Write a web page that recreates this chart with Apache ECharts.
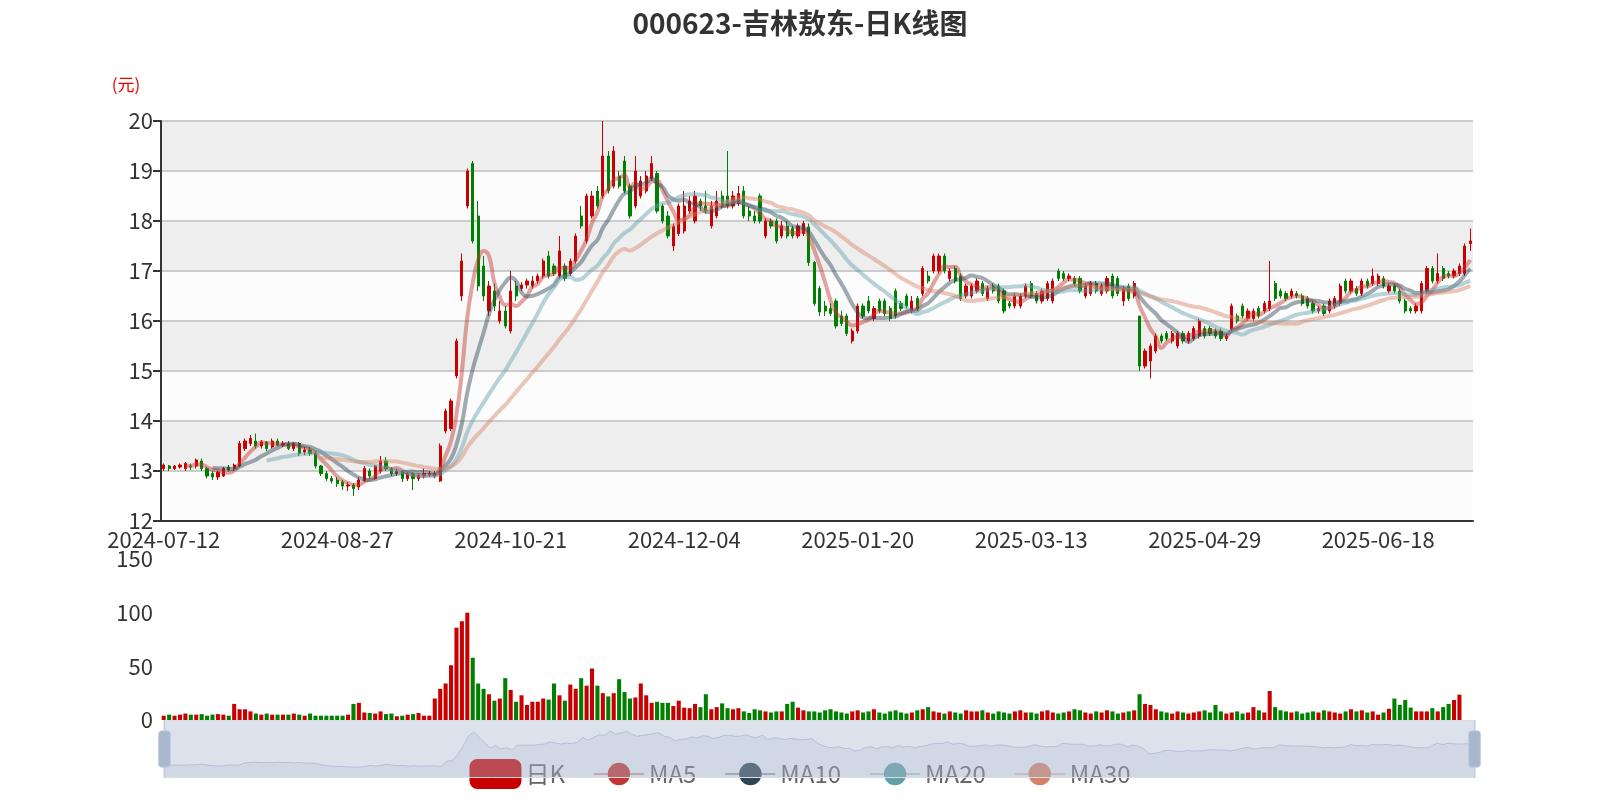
<!doctype html>
<html>
<head>
    <meta charset="UTF-8">
    <title>000623-吉林敖东-日K线图</title>
    <script src="https://cdn.jsdelivr.net/npm/echarts@6/dist/echarts.min.js"></script>
    <style>
        html, body { margin: 0; padding: 0; background: #fff; }
        #main { width: 1600px; height: 800px; }
    </style>
</head>
<body>
<div id="main"></div>
<script type="text/javascript">
    // 日K数据: [开盘, 收盘, 最低, 最高]
    var kData = [
        [13.05,13.12,13.0,13.15],[13.1,13.05,13.0,13.12],[13.05,13.1,13.02,13.12],[13.08,13.12,13.05,13.15],
        [13.05,13.15,13.0,13.18],[13.1,13.08,13.02,13.15],[13.1,13.22,13.05,13.25],[13.2,13.05,13.0,13.25],
        [13.05,12.9,12.85,13.08],[12.95,12.88,12.82,13.0],[12.88,12.98,12.82,13.0],[12.9,13.05,12.88,13.08],
        [13.08,13.02,12.98,13.12],[13.05,13.12,13.0,13.15],[13.1,13.55,13.08,13.6],[13.45,13.6,13.4,13.65],
        [13.55,13.65,13.5,13.72],[13.6,13.5,13.45,13.75],[13.5,13.58,13.45,13.62],[13.58,13.45,13.4,13.6],
        [13.48,13.6,13.45,13.65],[13.6,13.52,13.5,13.65],[13.52,13.55,13.48,13.6],[13.55,13.45,13.42,13.6],
        [13.45,13.55,13.4,13.58],[13.55,13.35,13.3,13.58],[13.38,13.42,13.32,13.48],[13.42,13.35,13.3,13.48],
        [13.35,13.1,13.05,13.4],[13.1,12.95,12.9,13.12],[12.95,12.85,12.8,13.0],[12.85,12.8,12.75,12.9],
        [12.82,12.75,12.68,12.88],[12.78,12.7,12.62,12.82],[12.7,12.72,12.6,12.78],[12.72,12.65,12.5,12.76],
        [12.68,12.82,12.62,12.88],[12.8,13.05,12.78,13.1],[13.0,12.9,12.85,13.05],[12.85,13.1,12.82,13.12],
        [13.0,13.2,12.95,13.3],[13.2,13.05,13.0,13.28],[13.05,12.95,12.9,13.08],[12.95,13.0,12.9,13.05],
        [13.0,12.85,12.78,13.02],[12.85,12.95,12.8,12.98],[12.95,12.85,12.62,12.98],[12.85,12.92,12.8,12.95],
        [12.9,12.95,12.85,13.05],[12.92,12.95,12.88,13.0],[12.9,12.95,12.85,13.0],[12.8,13.5,12.78,13.55],
        [13.8,14.2,13.75,14.25],[13.85,14.4,13.8,14.45],[14.9,15.6,14.85,15.65],[16.5,17.2,16.4,17.35],
        [18.3,19.0,18.25,19.05],[19.15,17.6,17.55,19.2],[18.1,16.7,16.6,18.4],[17.1,16.5,16.4,17.3],
        [16.2,16.7,16.1,16.8],[16.6,16.3,16.2,16.75],[16.0,16.2,15.95,16.4],[16.2,15.9,15.85,16.3],
        [15.8,16.6,15.75,17.0],[16.7,16.5,16.4,16.8],[16.65,16.72,16.6,16.78],[16.72,16.8,16.65,16.85],
        [16.7,16.8,16.65,16.9],[16.8,16.9,16.75,16.95],[16.9,17.2,16.85,17.25],[17.3,16.9,16.85,17.4],
        [17.1,16.95,16.9,17.15],[16.9,17.4,16.85,17.7],[17.1,16.85,16.8,17.15],[16.95,17.2,16.9,17.25],
        [17.2,17.7,17.15,17.75],[18.1,17.9,17.85,18.3],[17.6,18.5,17.55,18.55],[18.1,18.5,18.05,18.6],
        [18.6,18.3,18.25,18.7],[18.5,19.3,18.45,20.0],[19.3,18.6,18.55,19.4],[18.7,19.4,18.65,19.5],
        [18.9,18.7,18.65,19.0],[19.2,18.6,18.55,19.3],[18.7,18.1,18.05,18.75],[18.3,19.0,18.25,19.3],
        [18.5,18.8,18.45,18.9],[18.6,18.9,18.55,19.0],[18.85,19.15,18.8,19.3],[18.95,18.2,18.15,19.0],
        [18.3,18.0,17.95,18.35],[18.1,17.7,17.65,18.2],[17.5,17.9,17.4,17.95],[17.75,18.3,17.7,18.35],
        [17.8,18.3,17.75,18.6],[18.2,18.4,18.15,18.5],[18.0,18.5,17.95,18.6],[18.4,18.3,18.2,18.45],
        [18.3,18.2,18.15,18.6],[17.9,18.3,17.85,18.4],[18.1,18.4,18.05,18.6],[18.5,18.3,18.25,18.6],
        [18.5,18.3,18.25,19.4],[18.3,18.5,18.25,18.6],[18.35,18.55,18.3,18.7],[18.6,18.1,18.05,18.7],
        [18.2,18.1,18.0,18.3],[18.1,18.0,17.95,18.2],[18.5,18.0,17.95,18.55],[17.7,18.0,17.65,18.05],
        [18.0,17.9,17.85,18.05],[18.0,17.6,17.55,18.05],[17.7,17.9,17.65,18.0],[17.9,17.7,17.65,18.0],
        [17.85,17.7,17.65,17.9],[17.7,17.9,17.65,17.95],[17.75,17.95,17.7,18.0],[17.88,17.17,17.1,17.95],
        [17.17,16.35,16.3,17.2],[16.65,16.18,16.1,16.7],[16.3,16.2,16.1,16.4],[16.25,16.15,16.1,16.35],
        [16.4,15.9,15.85,16.45],[16.1,15.95,15.9,16.2],[16.1,15.75,15.7,16.15],[15.6,15.8,15.55,15.85],
        [15.8,16.3,15.75,16.35],[16.3,16.1,16.05,16.35],[16.4,16.2,16.15,16.5],[16.05,16.25,16.0,16.3],
        [16.4,16.2,16.15,16.45],[16.4,16.15,16.1,16.45],[16.25,16.05,16.0,16.3],[16.6,16.1,16.05,16.65],
        [16.35,16.25,16.2,16.4],[16.5,16.3,16.25,16.55],[16.2,16.4,16.15,16.5],[16.45,16.25,16.2,16.5],
        [16.55,17.05,16.5,17.1],[16.9,16.8,16.75,17.0],[17.0,17.3,16.95,17.35],[17.0,17.3,16.95,17.35],
        [17.3,17.0,16.95,17.35],[16.85,17.0,16.8,17.05],[17.05,16.8,16.75,17.1],[16.9,16.45,16.4,16.95],
        [16.5,16.7,16.45,16.75],[16.5,16.7,16.45,16.75],[16.6,16.8,16.55,16.85],[16.75,16.55,16.5,16.8],
        [16.45,16.65,16.4,16.7],[16.7,16.6,16.55,16.75],[16.7,16.4,16.35,16.75],[16.6,16.2,16.15,16.65],
        [16.35,16.3,16.25,16.4],[16.3,16.5,16.25,16.55],[16.3,16.5,16.25,16.55],[16.5,16.7,16.45,16.75],
        [16.75,16.5,16.45,16.8],[16.55,16.4,16.35,16.6],[16.4,16.6,16.35,16.65],[16.45,16.75,16.4,16.8],
        [16.4,16.8,16.35,16.85],[17.0,16.85,16.8,17.05],[16.95,16.85,16.8,17.0],[16.85,16.9,16.8,16.95],
        [16.85,16.75,16.7,16.9],[16.85,16.6,16.55,16.9],[16.5,16.7,16.45,16.75],[16.55,16.75,16.5,16.8],
        [16.75,16.6,16.55,16.8],[16.55,16.7,16.5,16.75],[16.6,16.85,16.55,16.9],[16.9,16.5,16.45,16.95],
        [16.85,16.55,16.5,16.9],[16.4,16.65,16.3,16.7],[16.7,16.45,16.4,16.75],[16.5,16.75,16.45,16.8],
        [16.1,15.1,15.0,16.1],[15.1,15.4,15.05,15.45],[15.2,15.5,14.85,15.55],[15.4,15.7,15.35,15.75],
        [15.7,15.6,15.55,15.75],[15.75,15.65,15.6,15.8],[15.6,15.75,15.55,15.8],[15.5,15.75,15.45,15.8],
        [15.75,15.6,15.55,15.8],[15.6,15.75,15.55,15.8],[15.65,15.85,15.6,15.9],[15.7,16.0,15.65,16.05],
        [15.85,15.7,15.65,15.9],[15.85,15.75,15.7,15.9],[15.8,15.7,15.65,15.85],[15.8,15.65,15.6,15.85],
        [15.65,15.7,15.6,15.75],[15.85,16.3,15.8,16.35],[16.1,16.0,15.95,16.15],[16.3,16.1,16.05,16.35],
        [16.05,16.2,16.0,16.25],[16.05,16.2,16.0,16.25],[16.25,16.1,16.05,16.3],[16.2,16.35,16.15,16.4],
        [16.25,16.4,16.2,17.2],[16.75,16.45,16.4,16.8],[16.6,16.5,16.45,16.65],[16.55,16.45,16.4,16.6],
        [16.5,16.6,16.45,16.65],[16.55,16.5,16.45,16.6],[16.5,16.35,16.3,16.55],[16.45,16.3,16.25,16.5],
        [16.35,16.2,16.15,16.4],[16.2,16.25,16.15,16.3],[16.3,16.15,16.1,16.35],[16.2,16.4,16.15,16.45],
        [16.3,16.45,16.25,16.5],[16.35,16.7,16.3,16.75],[16.8,16.6,16.55,16.85],[16.6,16.8,16.55,16.85],
        [16.65,16.55,16.5,16.7],[16.55,16.8,16.5,16.85],[16.8,16.7,16.65,16.85],[16.75,16.9,16.7,17.05],
        [16.75,16.9,16.7,16.95],[16.85,16.7,16.65,16.9],[16.6,16.7,16.55,16.75],[16.7,16.6,16.55,16.75],
        [16.6,16.4,16.35,16.65],[16.4,16.2,16.15,16.45],[16.25,16.2,16.15,16.3],[16.2,16.3,16.15,16.35],
        [16.2,16.75,16.15,16.8],[16.6,17.05,16.55,17.1],[17.05,16.8,16.75,17.1],[16.8,16.95,16.75,17.35],
        [17.05,16.85,16.8,17.1],[16.95,16.9,16.85,17.0],[16.9,17.0,16.85,17.05],[16.95,17.1,16.9,17.15],
        [16.95,17.5,16.9,17.55],[17.55,17.6,17.4,17.85]
    ];

    // 成交量(万手)
    var volumes = [
        4,5,4,5,6,5,5,5.5,4,5,5.5,5,4,15,10,10,8,6,5,6,5,5,5,5,6,5,4,6,4,4,
        4,4,4,4,5,15,16,7,6.5,6,8,5.5,6,3.5,4,5,5.5,6.5,4,4,20,29,34,51,86,92,100,58,34,29,
        24,18,20,39,28,17,23,14,17,17,20,19,34,23,18,33,29,39,32,48,32,25,22,25,38,26,20,21,34,23,
        16,17,16,16,13,18,11.5,11,15,12,24,10,12,15.5,11,10,11,8,6.5,10,9,8,7,8,8,15,17,11.5,9,8,
        8,7,9,10,8,7,6,8,9,7,8,10,7,6,8,9,7,6,7,9,10,12,8,7,6,8,7,6,9,8,
        8,9,7,6,8,7,6,8,9,7,
        7,6,8,9,7,6,7,8,10,9,7,6,8,7,9,8,6,7,8,9,24,15,14,10,8,7,6,8,7,6,
        7,8,9,7,14,8,6,7,8,6,7,12,9,7,27,12,9,8,7,8,6,7,8,7,9,8,7,6,8,10,
        8,9,7,
        8,5,7,10.5,20,14,18.6,11.5,8,8,8,11,8,12,15,18.6,23.6
    ];

    var xStep = 32;
    // 休市日
    var holidays = ['2024-09-16','2024-09-17','2024-10-01','2024-10-02','2024-10-03','2024-10-04','2024-10-07',
        '2025-01-01','2025-01-28','2025-01-29','2025-01-30','2025-01-31','2025-02-03','2025-02-04',
        '2025-04-04','2025-05-01','2025-05-02','2025-05-05','2025-06-02'];

    function pad(n) { return n < 10 ? '0' + n : '' + n; }
    var dates = [];
    var d = new Date(2024, 6, 12);
    while (dates.length < kData.length) {
        var s = d.getFullYear() + '-' + pad(d.getMonth() + 1) + '-' + pad(d.getDate());
        if (d.getDay() !== 0 && d.getDay() !== 6 && holidays.indexOf(s) < 0) dates.push(s);
        d.setDate(d.getDate() + 1);
    }

    function calculateMA(n) {
        var res = [];
        for (var i = 0; i < kData.length; i++) {
            if (i < n - 1) { res.push('-'); continue; }
            var sum = 0;
            for (var j = 0; j < n; j++) sum += kData[i - j][1];
            res.push(+(sum / n).toFixed(3));
        }
        return res;
    }

    var upColor = '#c80000', downColor = '#008000';
    var volData = volumes.map(function (v, i) {
        var k = kData[i] || [0, 0];
        return { value: v, itemStyle: { color: k[1] >= k[0] ? upColor : downColor } };
    });

    function maSeries(name, n, color) {
        return {
            name: name, type: 'line', data: calculateMA(n), smooth: true,
            symbol: 'circle', showSymbol: false,
            itemStyle: { color: color },
            lineStyle: { width: 4, opacity: 0.45, color: color }
        };
    }

    var font = '"Noto Sans CJK SC", "Noto Sans", sans-serif';
    var myChart = echarts.init(document.getElementById('main'));
    var option = {
        animation: false,
        textStyle: { fontFamily: font },
        title: {
            text: '000623-吉林敖东-日K线图',
            left: 'center',
            top: 4,
            textStyle: { fontSize: 28, fontWeight: 'bold', color: '#333', fontFamily: font }
        },
        legend: {
            bottom: 6,
            left: 'center',
            itemWidth: 50,
            itemHeight: 28,
            itemGap: 28,
            textStyle: { fontSize: 24, color: '#666', fontFamily: font },
            data: [{ name: '日K', icon: 'roundRect' }, 'MA5', 'MA10', 'MA20', 'MA30']
        },
        grid: [
            { left: 161, right: 127, top: 121, height: 400 },
            { left: 161, right: 127, top: 559, height: 161 }
        ],
        xAxis: [
            {
                type: 'category', data: dates, gridIndex: 0, boundaryGap: true,
                axisLine: { lineStyle: { color: '#333', width: 2 } },
                axisTick: { interval: xStep - 1, length: 8, lineStyle: { width: 2 } },
                axisLabel: { interval: xStep - 1, fontSize: 22, color: '#333', margin: 8 },
                splitLine: { show: false }
            },
            {
                type: 'category', data: dates, gridIndex: 1, boundaryGap: true,
                axisLine: { show: false }, axisTick: { show: false }, axisLabel: { show: false }
            }
        ],
        yAxis: [
            {
                gridIndex: 0, min: 12, max: 20, interval: 1, scale: true,
                name: '(元)', nameLocation: 'end', nameGap: 28,
                nameTextStyle: { color: '#e00', fontSize: 17, padding: [0, 70, 0, 0] },
                axisLine: { show: true, lineStyle: { color: '#333', width: 2 } },
                axisTick: { show: true, length: 8, lineStyle: { width: 2 } },
                axisLabel: { fontSize: 22, color: '#333' },
                splitLine: { lineStyle: { color: '#ccc', width: 2 } },
                splitArea: { show: true, areaStyle: { color: ['#fcfcfc', '#eeeeee'] } }
            },
            {
                gridIndex: 1, min: 0, max: 150, interval: 50,
                axisLine: { show: false }, axisTick: { show: false },
                axisLabel: { fontSize: 22, color: '#333' },
                splitLine: { show: false }
            }
        ],
        dataZoom: [
            { type: 'inside', xAxisIndex: [0, 1], start: 0, end: 100 },
            {
                type: 'slider', xAxisIndex: [0, 1], start: 0, end: 100,
                left: 161, right: 127, top: 720, height: 58,
                borderColor: '#ddd',
                fillerColor: 'rgba(167,183,204,0.4)',
                backgroundColor: 'rgba(47,69,84,0)',
                handleStyle: { color: '#a7b7cc' },
                moveHandleSize: 0,
                showDetail: false,
                dataBackground: {
                    lineStyle: { color: '#aab', opacity: 0.6 },
                    areaStyle: { color: '#c8d0dc', opacity: 0.5 }
                }
            }
        ],
        series: [
            {
                name: '日K', type: 'candlestick', data: kData,
                barMaxWidth: 4,
                itemStyle: { color: upColor, color0: downColor, borderColor: upColor, borderColor0: downColor }
            },
            maSeries('MA5', 5, '#c23531'),
            maSeries('MA10', 10, '#2f4554'),
            maSeries('MA20', 20, '#61a0a8'),
            maSeries('MA30', 30, '#d48265'),
            { name: '成交量', type: 'bar', xAxisIndex: 1, yAxisIndex: 1, data: volData, barWidth: '75%' }
        ]
    };
    myChart.setOption(option);
</script>
</body>
</html>
